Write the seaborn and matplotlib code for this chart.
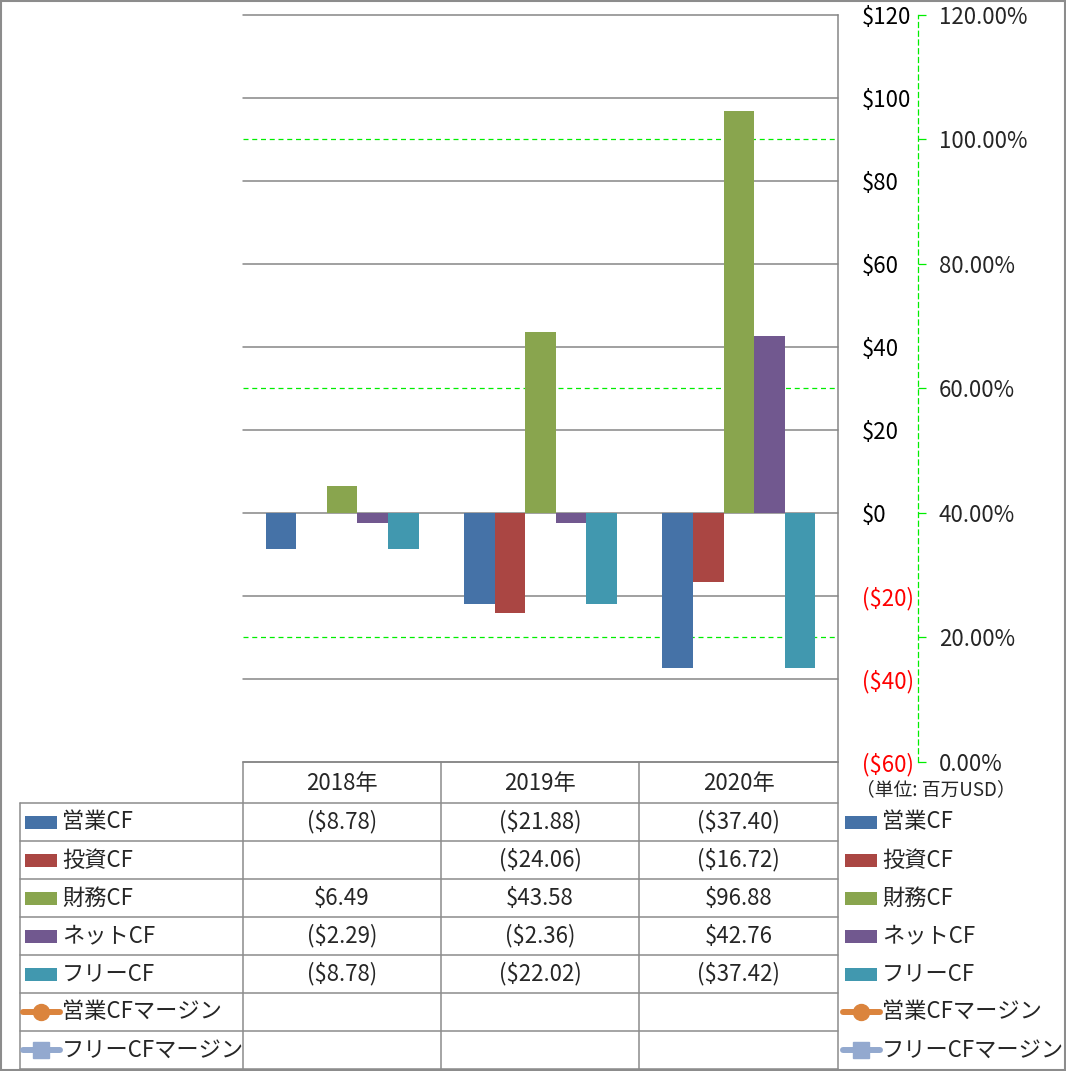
import numpy as np
import pandas as pd
import matplotlib.pyplot as plt
import seaborn as sns
from matplotlib.patches import Rectangle
from matplotlib.lines import Line2D

# ---------------------------------------------------------
# Data (百万USD)
# ---------------------------------------------------------
years = ["2018年", "2019年", "2020年"]
series = ["営業CF", "投資CF", "財務CF", "ネットCF", "フリーCF"]
op_cf = [-8.78, -21.88, -37.40]
inv_cf = [np.nan, -24.06, -16.72]
fin_cf = [6.49, 43.58, 96.88]
net_cf = [-2.29, -2.36, 42.76]
free_cf = [-8.78, -22.02, -37.42]
margin_names = ["営業CFマージン", "フリーCFマージン"]
op_margin = [np.nan, np.nan, np.nan]
free_margin = [np.nan, np.nan, np.nan]

bar_colors = ["#4572A7", "#AA4643", "#89A54E", "#71588F", "#4198AF"]
margin_colors = ["#DB843D", "#93A9CF"]
margin_markers = ["o", "s"]

usd_ticks = [-60, -40, -20, 0, 20, 40, 60, 80, 100, 120]
pct_ticks = [0, 20, 40, 60, 80, 100, 120]

W, H = 1066, 1071
FS = 16


def px(x, y):
    return x / W, 1 - y / H


def fmt_usd(v):
    if pd.isna(v):
        return ""
    if v < 0:
        return f"(${abs(v):.2f})"
    return f"${v:.2f}"


sns.set_style("white")
plt.rcParams["font.family"] = ["Noto Sans CJK JP", "DejaVu Sans"]

df = pd.DataFrame({
    "year": years * len(series),
    "series": np.repeat(series, len(years)),
    "value": op_cf + inv_cf + fin_cf + net_cf + free_cf,
})

fig = plt.figure(figsize=(W / 100, H / 100), dpi=100)

# overlay for table / legend / border, in pixel coords
ov = fig.add_axes([0, 0, 1, 1], zorder=-5)
ov.set_xlim(0, W)
ov.set_ylim(H, 0)
ov.axis("off")

x0, y0 = px(243, 762)
x1, y1 = px(838, 15)
ax = fig.add_axes([x0, y0, x1 - x0, y1 - y0])
ax2 = ax.twinx()

sns.barplot(data=df, x="year", y="value", hue="series", order=years,
            hue_order=series, palette=bar_colors, width=0.77, saturation=1,
            errorbar=None, legend=False, linewidth=0, ax=ax)

ax.set_xlim(-0.5, 2.5)
ax.set_ylim(-60, 120)
ax.set_yticks(usd_ticks)
ax.set_yticklabels([fmt_usd(v).replace(".00", "") if v != 0 else "$0" for v in usd_ticks])
ax.yaxis.tick_right()
ax.tick_params(axis="y", length=0, pad=17, labelsize=FS)
for lab, v in zip(ax.get_yticklabels(), usd_ticks):
    lab.set_color("red" if v < 0 else "black")
    lab.set_horizontalalignment("left")
ax.tick_params(axis="x", length=0, labelbottom=False)
ax.set_xlabel("")
ax.set_ylabel("")
ax.set_axisbelow(True)
for v in usd_ticks:
    ax.axhline(v, color="#868686", lw=1.1, zorder=0.5, clip_on=False)
for s in ["top", "left", "bottom"]:
    ax.spines[s].set_visible(False)
ax.spines["right"].set_color("#868686")
ax.spines["right"].set_linewidth(1.1)

# secondary % axis
ax2.set_ylim(0, 120)
ax2.set_yticks(pct_ticks)
ax2.set_yticklabels([f"{v:.2f}%" for v in pct_ticks])
ax2.spines["right"].set_position(("outward", 57.6))
ax2.spines["right"].set_color("#00EE00")
ax2.spines["right"].set_linestyle((0, (4, 3)))
ax2.spines["right"].set_linewidth(0.9)
for s in ["top", "left", "bottom"]:
    ax2.spines[s].set_visible(False)
ax2.tick_params(axis="y", length=6, width=0.9, color="#00EE00", pad=9, labelsize=FS)
# secondary gridlines only where they don't sit on a primary gridline
for v in pct_ticks:
    usd_equiv = -60 + v * 180 / 120
    if usd_equiv not in usd_ticks:
        ax2.axhline(v, color="#00EE00", lw=0.9, linestyle=(0, (4, 3)))
ax.set_zorder(ax2.get_zorder() + 1)
ax.patch.set_visible(False)

# ---------------------------------------------------------
# Data table
# ---------------------------------------------------------
col_x = [243, 441, 639, 838]
row_y = [762, 803, 841, 879, 917, 955, 993, 1031, 1069]
grid_c = "#8C8C8C"
ov.plot([243, 838], [762, 762], color=grid_c, lw=1.1)
for y in row_y[1:]:
    ov.plot([20, 838], [y, y], color=grid_c, lw=1.1)
for x in col_x:
    ov.plot([x, x], [762, 1069], color=grid_c, lw=1.1)
ov.plot([20, 20], [803, 1069], color=grid_c, lw=1.1)

for i, yr in enumerate(years):
    ov.text((col_x[i] + col_x[i + 1]) / 2, (row_y[0] + row_y[1]) / 2 + 1, yr,
            ha="center", va="center", fontsize=FS)

row_names = series + margin_names
row_vals = [op_cf, inv_cf, fin_cf, net_cf, free_cf, op_margin, free_margin]
for r, (name, vals) in enumerate(zip(row_names, row_vals)):
    yc = (row_y[r + 1] + row_y[r + 2]) / 2
    for i, v in enumerate(vals):
        ov.text((col_x[i] + col_x[i + 1]) / 2, yc, fmt_usd(v),
                ha="center", va="center", fontsize=FS)
    for lx in (25, 845):
        if r < len(series):
            ov.add_patch(Rectangle((lx, yc - 6.5), 32, 13, color=bar_colors[r], lw=0))
        else:
            k = r - len(series)
            ov.add_line(Line2D([lx - 2, lx + 35], [yc, yc], color=margin_colors[k],
                               lw=4.3, solid_capstyle="round"))
            ov.plot([lx + 16], [yc], marker=margin_markers[k], color=margin_colors[k],
                    markersize=11.5 if k == 0 else 11, mec=margin_colors[k])
        ov.text(lx + 37, yc, name, ha="left", va="center", fontsize=FS)

ov.text(856, 790, "（単位: 百万USD）", ha="left", va="center", fontsize=13.5)

ov.add_patch(Rectangle((1, 1), W - 2, H - 2, fill=False, ec="#8C8C8C", lw=1.5))

fig.savefig("out.png", dpi=100)
